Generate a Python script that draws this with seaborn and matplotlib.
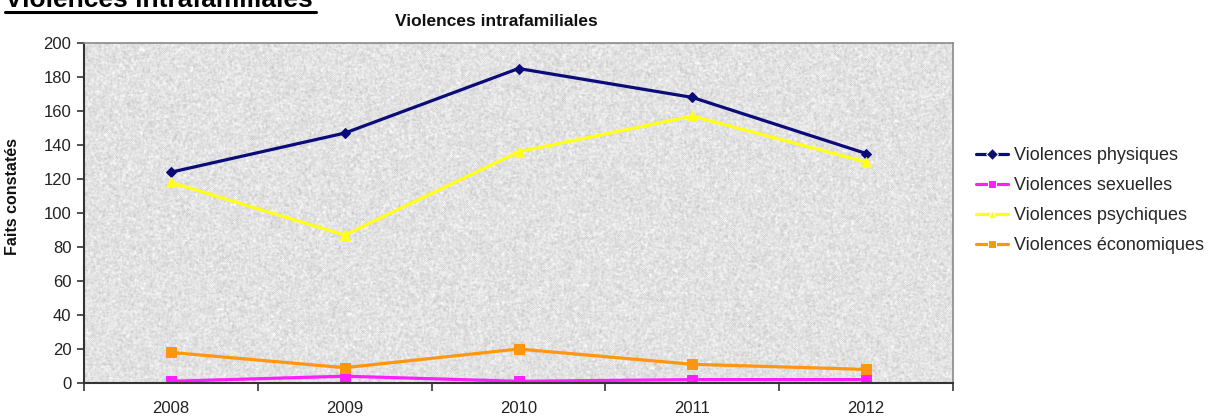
import numpy as np
import pandas as pd
import matplotlib
matplotlib.use("Agg")
import matplotlib.pyplot as plt
from matplotlib.lines import Line2D
from matplotlib.ticker import FixedLocator
import seaborn as sns

# Faits constatés par année et par type de violence
annees = ["2008", "2009", "2010", "2011", "2012"]
physiques = [124, 147, 185, 168, 135]
sexuelles = [1, 4, 1, 2, 2]
psychiques = [118, 87, 136, 157, 130]
economiques = [18, 9, 20, 11, 8]

types = ["Violences physiques", "Violences sexuelles",
         "Violences psychiques", "Violences économiques"]
couleurs = ["#0B0B7A", "#FF1EFF", "#FFFF1A", "#FF9610"]
marqueurs = ["D", "s", "^", "s"]
tailles = [5.5, 6.5, 7.5, 7.5]
y_ticks = list(range(0, 201, 20))

sns.set_theme(style="white")
plt.rcParams["font.family"] = ["Liberation Sans", "DejaVu Sans"]

df = pd.DataFrame({
    "annee": annees * 4,
    "faits": physiques + sexuelles + psychiques + economiques,
    "type": [t for t in types for _ in annees],
})

W, H = 1210, 416
fig = plt.figure(figsize=(W / 100, H / 100), dpi=100)
fig.patch.set_facecolor("white")
ax = fig.add_axes([84 / W, 1 - 383 / H, (953 - 84) / W, (383 - 43) / H])

# fine granite-like grey fill of the plot area
rng = np.random.default_rng(11)
grain = rng.normal(0, 1, (340, 869))
grain = (grain + np.roll(grain, 1, 0) + np.roll(grain, -1, 0)
         + np.roll(grain, 1, 1) + np.roll(grain, -1, 1)) / 5
grain = grain / grain.std()
fond = np.clip(0.885 + 0.03 * grain, 0, 1)
ax.imshow(fond, cmap="gray", vmin=0, vmax=1, extent=(-0.5, 4.5, 0, 200),
          aspect="auto", interpolation="nearest", zorder=0)

sns.lineplot(data=df, x="annee", y="faits", hue="type", style="type",
             hue_order=types, style_order=types,
             palette=dict(zip(types, couleurs)),
             markers=dict(zip(types, marqueurs)), dashes=False,
             sort=False, linewidth=2.3, ax=ax, zorder=3)

for ln, c, m in zip(ax.lines, couleurs, tailles):
    ln.set_markersize(m)
    ln.set_markeredgecolor(c)
    ln.set_markerfacecolor(c)

ax.set_xlim(-0.5, 4.5)
ax.set_ylim(0, 200)
ax.set_yticks(y_ticks)
ax.set_yticklabels([str(v) for v in y_ticks], fontsize=12, color="#222222")
ax.set_xticks(range(len(annees)))
ax.set_xticklabels(annees, fontsize=12, color="#222222")
ax.xaxis.set_minor_locator(FixedLocator(np.arange(-0.5, 4.6, 1.0)))
ax.tick_params(axis="x", which="major", length=0, pad=13)
ax.tick_params(axis="x", which="minor", length=6, width=1.2,
               color="#333333", direction="out", bottom=True)
ax.tick_params(axis="y", length=5, width=1.2, color="#333333",
               direction="out", left=True, pad=4)
ax.set_xlabel("")
ax.set_ylabel("Faits constatés", fontsize=11.5, fontweight="bold",
              color="#111111")
ax.yaxis.set_label_coords(-(84 - 20) / (953 - 84), (383 - 197) / (383 - 43))

for s in ("left", "bottom"):
    ax.spines[s].set_color("#333333")
    ax.spines[s].set_linewidth(1.5)
for s in ("top", "right"):
    ax.spines[s].set_color("#8a8a8a")
    ax.spines[s].set_linewidth(1.2)
for s in ax.spines.values():
    s.set_zorder(5)

handles, labels = ax.get_legend_handles_labels()
ax.legend(handles, labels, loc="center left",
          bbox_to_anchor=(976 / W, 1 - 201 / H), bbox_transform=fig.transFigure,
          frameon=False, fontsize=13, handlelength=1.75, handletextpad=0.33,
          labelspacing=0.72, borderaxespad=0, borderpad=0)

fig.text(496 / W, 1 - 22 / H, "Violences intrafamiliales", ha="center",
         va="center", fontsize=12.5, fontweight="bold", color="#111111")

# section heading, partly above the top edge
fig.text(5 / W, 1 - 7 / H, "Violences intrafamiliales", ha="left",
         va="baseline", fontsize=19, fontweight="bold", color="black")
fig.add_artist(Line2D([5 / W, 316 / W], [1 - 12 / H, 1 - 12 / H],
                      transform=fig.transFigure, color="black", lw=2.2))

fig.savefig("out.png", dpi=100)
